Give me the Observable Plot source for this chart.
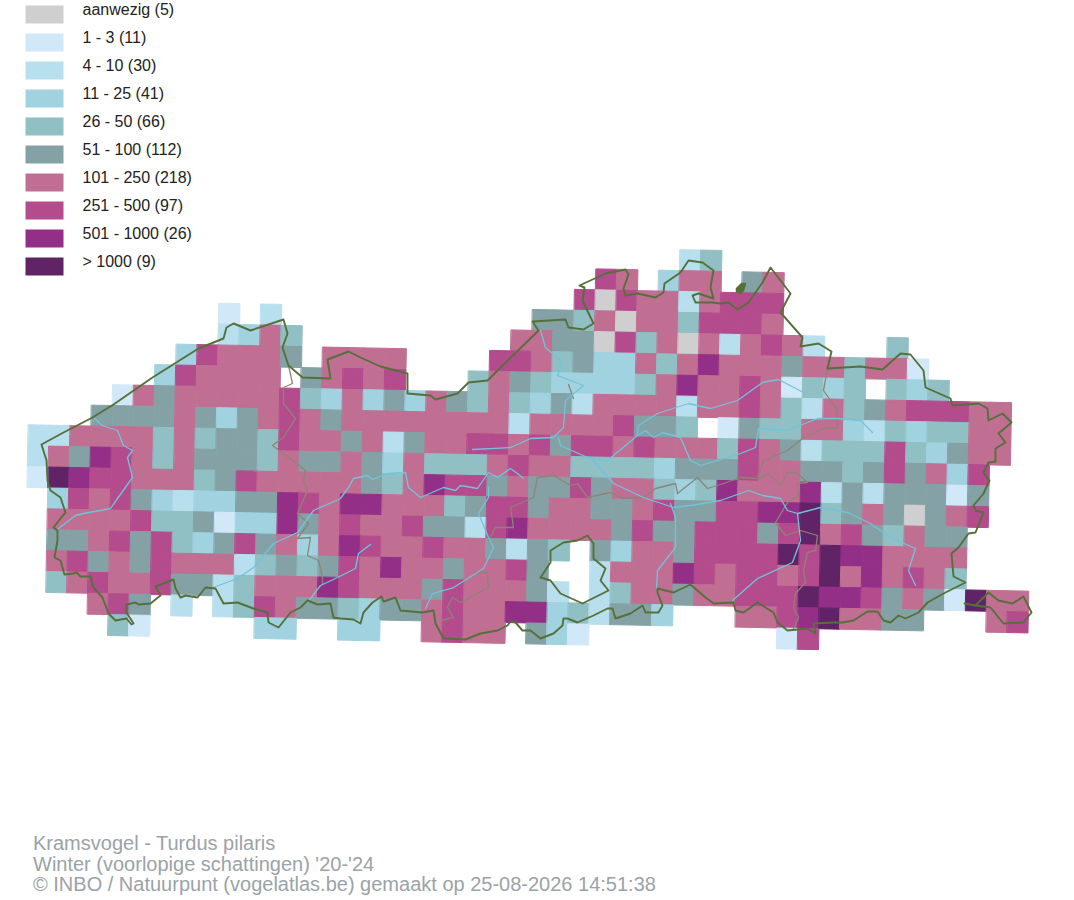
<!DOCTYPE html>
<html><head><meta charset="utf-8">
<script src="https://cdn.jsdelivr.net/npm/d3@7"></script>
<script src="https://cdn.jsdelivr.net/npm/@observablehq/plot@0.6"></script>
<style>
html,body{margin:0;background:#fff}
#cap{margin:3px 0 0 33px;font:20px/20.5px "Liberation Sans",Arial,sans-serif;color:#9aa3a8;white-space:nowrap}
svg{display:block}
</style></head><body><div id="chart"></div><div id="cap"></div>
<script>
const classLabels=["aanwezig (5)","1 - 3 (11)","4 - 10 (30)","11 - 25 (41)","26 - 50 (66)","51 - 100 (112)","101 - 250 (218)","251 - 500 (97)","501 - 1000 (26)","> 1000 (9)"];
const classCodes=["g","a","b","c","d","e","f","h","i","j"];
const classColors=["#cfcfcf","#d1e8f8","#b8dfee","#a0d2e0","#90bfc4","#84a2a5","#c16e93","#b44b8d","#942f87","#5f2366"];
const firstRow=-9;
const rowStarts=[31,27,26,9,9,7,6,4,3,0,0,0,1,1,1,1,1,3,4];
const rowCells=[
"bd",
"hf.cff.ef",
"hghffbfhhh",
"a.b............eedfgffdhhhf",
"bcfd..........ffeeghdfgfbfhfb...d",
"chfffe.ffff....hhfdeccfdfifffeffdffa",
"chffff.efhfh...dfedccccdfiffhfadcd.dcd",
"afefffffhdcfcecfedfdcebffffbffhfdbfdefhhhff",
"eeeefecefhfeffffffffbffffheed.aeddffcbdcddff",
"bbffffdfdeedhffefbeffhhfhehhfhfffdhfebdddhdceff",
"bfeihfdfeeedfeefecfdddfhffddddceeehffeedehefch",
"ajihhfffdehfffffedfihhefeeheffdcdifffibebeeeae",
"chfhecbcceeihfiifffdehheffeefheehhiijdefegefh",
"ffffhddeacciefhffheebhiffffeheehhhehjfhedfee",
"eefhehdcehefcfihffhffebed.ecffehhhhjhjiiffff",
"fhefehfffbdedehfiffeffhe..bfffihfhhfhjfifhfd",
"dfhffheebdfffihfffehfffeb.bdffeffhhhjiihefeajff",
"fhe.b.bdhfeedceefhffiicdbeec...ffhijffee...fh",
"da.....cc..cc..fhff.eca.........ah"
];
const border=[[41,444],[46,460],[47,480],[50,490],[60,497],[65,512],[60,518],[53,527],[57,530],[57,540],[54,557],[60,560],[64,574],[73,573],[76,572],[80,576],[90,576],[93,587],[102,597],[108,613],[115,620],[126,618],[131,624],[133,623],[126,612],[126,604],[135,602],[138,604],[150,603],[160,595],[155,586],[173,579],[175,588],[180,597],[185,595],[197,597],[205,587],[215,588],[223,603],[237,602],[253,608],[267,612],[268,622],[278,627],[290,612],[300,607],[307,600],[317,604],[330,603],[333,617],[340,618],[353,619],[360,623],[363,612],[372,602],[381,596],[383,601],[395,597],[400,610],[422,612],[433,610],[435,623],[443,638],[465,639],[480,633],[497,630],[507,625],[510,621],[515,622],[522,630],[530,630],[540,638],[553,633],[562,625],[563,618],[567,618],[577,622],[593,615],[607,608],[612,608],[615,618],[630,613],[642,605],[645,612],[658,612],[662,605],[657,592],[657,588],[673,592],[690,584],[705,597],[713,603],[733,602],[735,610],[743,612],[757,602],[773,612],[777,622],[787,630],[807,628],[815,633],[813,623],[833,622],[842,622],[853,620],[867,611],[877,611],[883,620],[890,622],[898,615],[905,618],[918,612],[927,602],[943,593],[965,582],[953,576],[951,553],[958,547],[968,533],[975,532],[983,512],[975,510],[973,505],[983,493],[989,480],[983,472],[988,462],[995,461],[995,448],[1005,442],[998,433],[1011,422],[1002,413],[988,420],[987,408],[978,403],[952,405],[950,398],[925,387],[923,370],[910,354],[900,353],[882,369],[860,366],[827,368],[831,351],[818,343],[800,346],[802,337],[780,312],[790,293],[770,267],[762,282],[748,302],[737,309],[728,302],[720,303],[712,302],[695,302],[692,295],[698,293],[713,298],[710,287],[713,270],[702,262],[688,260],[680,272],[664,283],[663,292],[655,297],[637,293],[625,295],[623,288],[628,274],[625,269],[605,273],[579,285],[584,287],[582,300],[593,323],[583,329],[568,327],[565,319],[532,321],[538,330],[487,380],[468,382],[457,393],[435,399],[430,395],[407,393],[407,373],[380,366],[360,357],[348,351],[327,359],[330,378],[302,377],[288,365],[282,347],[287,333],[283,319],[250,330],[233,323],[226,327],[223,338],[198,348],[152,377],[113,404],[92,417],[63,432],[41,444]];
const voeren=[[964,603],[975,605],[980,600],[988,592],[998,600],[1012,603],[1023,596],[1031,612],[1023,622],[1003,623],[990,607],[975,605]];
const brussels=[[540,577],[550,562],[550,550],[563,542],[577,540],[587,535],[593,543],[593,558],[605,568],[600,580],[608,590],[582,603],[560,593],[550,580],[540,577]];
const islet=[[736,288],[741,283],[745,283],[743,290],[740,293],[736,291],[736,288]];
const rivers=[
[[93,417],[102,425],[117,430],[123,445],[132,450],[127,457],[132,477],[117,498],[110,508],[83,513],[75,515],[58,528]],
[[370,544],[358,553],[355,568],[337,577],[320,585],[307,602]],
[[210,588],[237,578],[253,567],[273,543],[297,532],[313,510],[340,498],[348,487],[353,478],[367,475],[372,479],[387,473],[405,472],[408,487],[420,497],[443,487],[455,490],[460,485],[477,488],[488,472],[497,477],[510,468],[517,473],[523,478]],
[[488,487],[488,497],[478,513],[488,537],[493,547],[483,568],[453,587],[432,593],[425,608]],
[[472,449],[510,447],[530,438],[553,437],[563,427],[565,400],[583,385],[557,375],[562,362],[545,347],[540,330]],
[[558,437],[560,445],[587,457],[607,460],[637,435],[645,430],[653,437],[662,432],[680,437],[690,460],[700,465],[740,453],[755,447],[758,428],[787,430],[817,418],[837,418],[860,420],[872,432]],
[[590,457],[613,483],[643,497],[673,507],[690,505],[720,500],[748,490],[762,495],[780,498],[787,510],[797,513],[820,507],[847,512],[870,523],[890,537],[915,548],[908,570],[915,585]],
[[797,513],[800,540],[792,562],[757,578],[732,600]],
[[637,433],[638,425],[657,413],[688,403],[710,408],[737,400],[762,382],[778,379],[803,392]],
[[656,588],[657,570],[675,547],[675,517],[670,503]]
];
const provinces=[
[[288,365],[292,383],[283,387],[283,403],[295,418],[283,437],[272,445],[283,453],[305,470],[303,480],[307,490],[297,513],[308,523],[297,538],[310,537],[307,555],[318,560],[322,577],[322,583]],
[[568,384],[573,398]],
[[488,540],[495,527],[513,527],[510,507],[533,497],[537,477],[553,475],[570,485],[577,483],[587,497],[610,492],[623,498],[643,497],[655,488],[675,483],[677,493],[697,477],[707,488],[723,483],[740,477],[757,478],[763,460],[787,450],[802,438],[822,428],[837,427],[837,410],[823,390],[827,368]],
[[757,478],[768,473],[780,485],[787,472],[797,473],[807,482],[797,483],[798,495],[787,502],[775,522],[785,535],[800,530],[817,535],[815,550],[807,552],[803,570],[805,582],[795,593],[793,607],[798,617],[793,628]],
[[440,620],[453,617],[447,607],[452,597],[460,602],[488,587],[487,572],[475,572]]
];
const captionLines=["Kramsvogel - Turdus pilaris","Winter (voorlopige schattingen) '20-'24","© INBO / Natuurpunt (vogelatlas.be) gemaakt op 25-08-2026 14:51:38"];

// grid definition: cell size and slight tilt of the 5 km grid relative to the map
const size=20.9, tilt=0.02, ox=28, oy=424.3;
const corner=(c,r)=>[ox+size*c-tilt*size*r, oy+size*r+tilt*size*c];
const cells=[];
rowCells.forEach((s,k)=>{
  const r=firstRow+k;
  [...s].forEach((ch,i)=>{
    if(ch==="."||ch===" ")return;
    const c=rowStarts[k]+i;
    cells.push({type:"Feature",label:classLabels[classCodes.indexOf(ch)],
      geometry:{type:"Polygon",coordinates:[[corner(c,r),corner(c+1,r),corner(c+1,r+1),corner(c,r+1),corner(c,r)]]}});
  });
});
const legendSwatches=classLabels.map((label,i)=>({type:"Feature",label,
  geometry:{type:"Polygon",coordinates:[[[25,5+28*i],[63,5+28*i],[63,23+28*i],[25,23+28*i],[25,5+28*i]]]}}));
const legendText=classLabels.map((label,i)=>({label,x:82,y:9+28*i}));
const line=(coords)=>({type:"LineString",coordinates:coords});

const plot=Plot.plot({
  width:1074,height:830,
  margin:0,
  projection:d3.geoIdentity(),
  color:{type:"ordinal",domain:classLabels,range:classColors},
  style:{background:"#fff"},
  marks:[
    Plot.geo(cells,{fill:d=>d.label,stroke:d=>d.label,strokeWidth:1}),
    Plot.geo(provinces.map(line),{stroke:"#8d8476",strokeWidth:1.3,fill:"none"}),
    Plot.geo(rivers.map(line),{stroke:"#70c4dc",strokeWidth:1.3,fill:"none"}),
    Plot.geo([border,voeren,brussels].map(line),{stroke:"#55703a",strokeWidth:1.9,strokeLinejoin:"round",fill:"none"}),
    Plot.geo([{type:"Polygon",coordinates:[islet]}],{fill:"#55703a",stroke:"#55703a",strokeWidth:1.5}),
    Plot.geo(legendSwatches,{fill:d=>d.label}),
    Plot.text(legendText,{x:"x",y:"y",text:"label",textAnchor:"start",lineAnchor:"middle",fontSize:16,fontFamily:"Liberation Sans",fill:"#222"})
  ]
});
document.getElementById("chart").append(plot);
document.getElementById("cap").innerHTML=captionLines.map(t=>`<div>${t}</div>`).join("");
</script></body></html>
